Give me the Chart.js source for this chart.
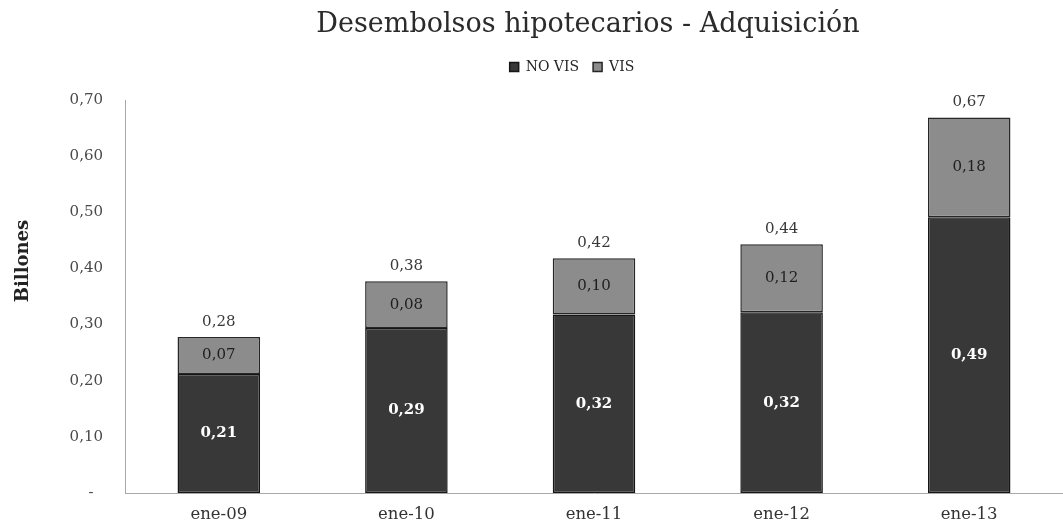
<!DOCTYPE html>
<html><head><meta charset="utf-8">
<script src="https://cdn.jsdelivr.net/npm/chart.js@4/dist/chart.umd.min.js"></script>
<style>html,body{margin:0;padding:0;background:#fff;}</style>
</head><body>
<canvas id="c" width="1063" height="525"></canvas>
<script>
const chartTitle = 'Desembolsos hipotecarios - Adquisición';
const yAxisTitle = 'Billones';
const categories = ['ene-09', 'ene-10', 'ene-11', 'ene-12', 'ene-13'];
const seriesNames = ['NO VIS', 'VIS'];
const noVis = [0.212, 0.294, 0.318, 0.322, 0.491];
const vis = [0.066, 0.083, 0.100, 0.121, 0.178];
const yMin = 0, yMax = 0.7, yStep = 0.1;

const SERIF = '"DejaVu Serif", serif';
const fmt = v => v.toFixed(2).replace('.', ',');

const shiftPlugin = {
  id: 'shift',
  afterLayout(chart) {
    const lg = chart.legend;
    if (lg) { lg.top -= 16; lg.bottom -= 16; lg.left -= 22; lg.right -= 22; }
    const t = chart.titleBlock;
    if (t) { t.left -= 6; t.right -= 6; }
  }
};

const labelPlugin = {
  id: 'barLabels',
  afterDatasetsDraw(chart) {
    const ctx = chart.ctx;
    ctx.save();
    ctx.textAlign = 'center';
    ctx.textBaseline = 'middle';
    const m0 = chart.getDatasetMeta(0), m1 = chart.getDatasetMeta(1);
    m0.data.forEach((el, i) => {
      ctx.font = 'bold 15px ' + SERIF;
      ctx.fillStyle = '#ffffff';
      ctx.fillText(fmt(noVis[i]), el.x, (el.y + el.base) / 2);
    });
    m1.data.forEach((el, i) => {
      ctx.font = '15px ' + SERIF;
      ctx.fillStyle = '#1e1e1e';
      ctx.fillText(fmt(vis[i]), el.x, (el.y + el.base) / 2);
      ctx.fillStyle = '#383838';
      ctx.fillText(fmt(noVis[i] + vis[i]), el.x, el.y - 15);
    });
    ctx.translate(23, 261);
    ctx.rotate(-Math.PI / 2);
    ctx.font = 'bold 18px ' + SERIF;
    ctx.fillStyle = '#222222';
    ctx.fillText(yAxisTitle, 0, 0);
    ctx.restore();
  }
};

new Chart(document.getElementById('c'), {
  type: 'bar',
  data: {
    labels: categories,
    datasets: [
      { label: seriesNames[0], data: noVis, backgroundColor: '#383838', borderColor: '#161616', borderWidth: 1.5, borderSkipped: false },
      { label: seriesNames[1], data: vis, backgroundColor: '#8c8c8c', borderColor: '#262626', borderWidth: 1.5, borderSkipped: false }
    ]
  },
  options: {
    responsive: false,
    animation: false,
    devicePixelRatio: 1,
    layout: { padding: { left: 0, right: -4, top: 0, bottom: 0 } },
    datasets: { bar: { barPercentage: 0.44, categoryPercentage: 1 } },
    plugins: {
      title: {
        display: true, text: chartTitle, fullSize: false,
        color: '#2b2b2b',
        font: { family: SERIF, size: 27, weight: 'normal' },
        padding: { top: 9, bottom: 20.6 }
      },
      legend: {
        display: true, position: 'top', fullSize: false,
        labels: {
          boxWidth: 9, boxHeight: 9, padding: 14,
          color: '#262626',
          font: { family: SERIF, size: 14 }
        }
      },
      tooltip: { enabled: false }
    },
    scales: {
      x: {
        stacked: true,
        grid: { display: false, drawTicks: false },
        border: { display: true, color: '#a8a8a8', width: 1 },
        ticks: { color: '#333333', font: { family: SERIF, size: 16.5 }, padding: 12 },
        afterFit(s) { s.height = 32; }
      },
      y: {
        stacked: true,
        min: yMin, max: yMax,
        grid: { display: false, drawTicks: false },
        border: { display: true, color: '#a8a8a8', width: 1 },
        ticks: {
          stepSize: yStep,
          color: '#4a4a4a',
          font: { family: SERIF, size: 15 },
          padding: 22,
          callback: v => (Math.abs(v) < 1e-9 ? '-  ' : fmt(v))
        },
        afterFit(s) { s.width = 125; }
      }
    }
  },
  plugins: [shiftPlugin, labelPlugin]
});
</script>
</body></html>
